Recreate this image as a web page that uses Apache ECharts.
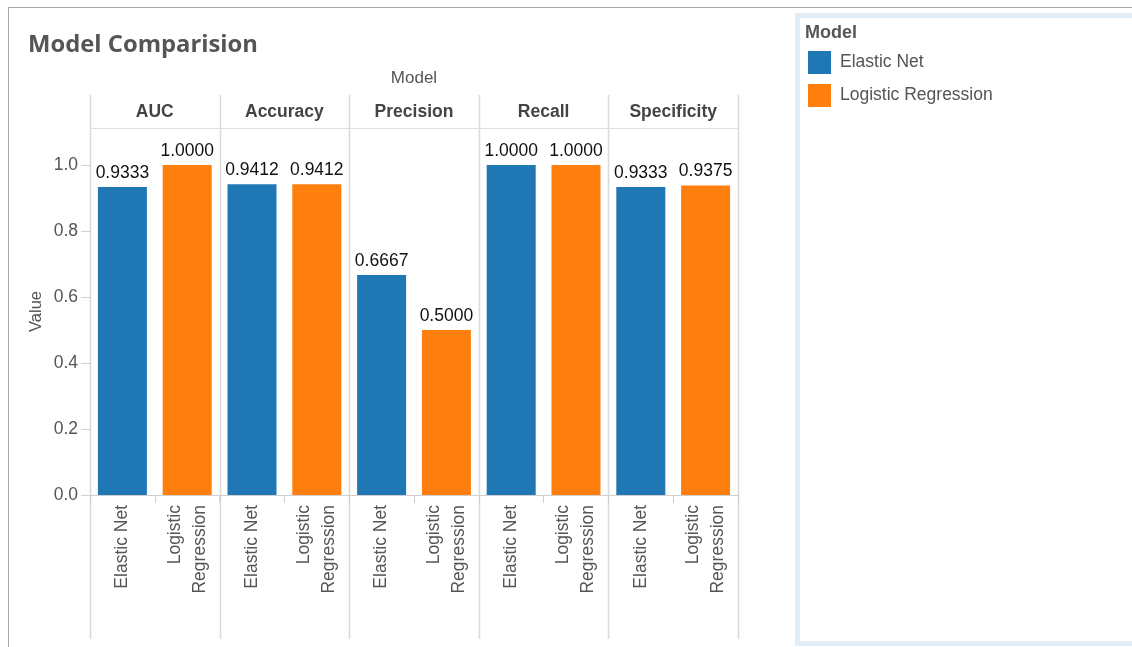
<!DOCTYPE html>
<html>
<head>
<meta charset="utf-8">
<script src="https://cdn.jsdelivr.net/npm/echarts@6/dist/echarts.min.js"></script>
<style>
  html, body { margin: 0; padding: 0; background: #fff; }
  #chart { width: 1132px; height: 647px; }
</style>
</head>
<body>
<div id="chart"></div>
<script>
// Metrics shown as facets, one panel each
const metrics = ['AUC', 'Accuracy', 'Precision', 'Recall', 'Specificity'];
const models = ['Elastic Net', 'Logistic Regression'];
const elasticNet = [0.9333, 0.9412, 0.6667, 1.0000, 0.9333];
const logistic = [1.0000, 0.9412, 0.5000, 1.0000, 0.9375];
const yTicks = [0, 0.2, 0.4, 0.6, 0.8, 1.0];

const colors = ['#1f77b4', '#ff7f0e'];
const labelFont = 'Helvetica, "Liberation Sans", Arial, sans-serif';

// Panel geometry
const panelLeft = 90, panelRight = 738;
const panelW = (panelRight - panelLeft) / metrics.length;
const plotTop = 128, plotBottom = 495;
const yMax = 1.112;

const grids = [], xAxes = [], yAxes = [], series = [];
metrics.forEach((m, i) => {
  grids.push({ left: panelLeft + i * panelW, top: plotTop, width: panelW, height: plotBottom - plotTop });
  // bottom axis: model names
  xAxes.push({
    type: 'category', gridIndex: i, data: ['Elastic Net', 'Logistic\nRegression'],
    axisLine: { show: true, lineStyle: { color: '#cfcfcf' } },
    axisTick: { show: true, length: 8, lineStyle: { color: '#cfcfcf' } },
    axisLabel: { rotate: 90, margin: 10, fontSize: 17.5, color: '#555', fontFamily: labelFont, lineHeight: 25 }
  });
  // top axis: facet header
  xAxes.push({
    type: 'category', gridIndex: i, position: 'top', data: [m],
    axisLine: { show: false }, axisTick: { show: false },
    axisLabel: { margin: 7, fontSize: 17.5, fontWeight: 'bold', color: '#444', fontFamily: labelFont }
  });
  yAxes.push({
    type: 'value', gridIndex: i, min: 0, max: yMax, interval: 0.2,
    splitLine: { show: false },
    axisLine: { show: false },
    axisTick: { show: i === 0, length: 9, lineStyle: { color: '#cfcfcf' } },
    axisLabel: {
      show: i === 0, showMaxLabel: false, margin: 12, fontSize: 17.5, color: '#555', fontFamily: labelFont,
      formatter: v => (yTicks.some(t => Math.abs(t - v) < 1e-6) ? v.toFixed(1) : '')
    },
    name: i === 0 ? 'Value' : '', nameLocation: 'middle', nameGap: 45,
    nameTextStyle: { fontSize: 16.5, color: '#555', fontFamily: labelFont }
  });
  const vals = [elasticNet[i], logistic[i]];
  vals.forEach((v, k) => {
    const data = [null, null];
    data[k] = v;
    series.push({
      name: models[k], type: 'bar', xAxisIndex: i * 2, yAxisIndex: i,
      data: data.map(d => (d === null ? '-' : d)),
      barWidth: 49, barGap: '-100%',
      itemStyle: { color: colors[k] },
      label: {
        show: true, position: 'top', distance: 5, fontSize: 17.5, color: '#111', fontFamily: labelFont,
        formatter: p => Number(p.value).toFixed(4)
      }
    });
  });
});

// Facet frame: separators and header rule
const frame = [];
for (let i = 0; i <= metrics.length; i++) {
  const x = Math.round(panelLeft + i * panelW) + 0.5;
  frame.push({ type: 'line', shape: { x1: x, y1: 95, x2: x, y2: 639 }, style: { stroke: '#d9d9d9', lineWidth: 1.5 }, z: 0 });
}
frame.push({ type: 'line', shape: { x1: panelLeft, y1: plotTop + 0.5, x2: panelRight, y2: plotTop + 0.5 }, style: { stroke: '#dedede', lineWidth: 1 }, z: 0 });

const chart = echarts.init(document.getElementById('chart'));
chart.setOption({
  animation: false,
  title: {
    text: 'Model Comparision', left: 23, top: 28,
    textStyle: { fontSize: 23.8, fontWeight: 'bold', color: '#555', fontFamily: '"Open Sans", sans-serif' }
  },
  legend: {
    orient: 'vertical', left: 803, top: 46, itemWidth: 23, itemHeight: 23, itemGap: 10,
    icon: 'rect', data: models,
    textStyle: { fontSize: 17.5, color: '#555', fontFamily: labelFont, padding: [0, 0, 0, 4] }
  },
  grid: grids,
  xAxis: xAxes,
  yAxis: yAxes,
  series: series,
  graphic: [
    // outer sheet edges
    { type: 'line', shape: { x1: 8, y1: 7.5, x2: 1132, y2: 7.5 }, style: { stroke: '#a8a8a8', lineWidth: 1 } },
    { type: 'line', shape: { x1: 8.5, y1: 7, x2: 8.5, y2: 647 }, style: { stroke: '#a8a8a8', lineWidth: 1 } },
    // legend card
    { type: 'rect', shape: { x: 797.5, y: 15.5, width: 400, height: 628 }, style: { fill: 'none', stroke: '#e2eef7', lineWidth: 5 } },
    { type: 'text', x: 805, y: 33, style: { text: 'Model', fill: '#555', font: 'bold 18px ' + labelFont, verticalAlign: 'middle' } },
    // column header caption
    { type: 'text', x: 414, y: 78, style: { text: 'Model', fill: '#555', font: '17px ' + labelFont, align: 'center', verticalAlign: 'middle' } },
    ...frame
  ]
});
</script>
</body>
</html>
